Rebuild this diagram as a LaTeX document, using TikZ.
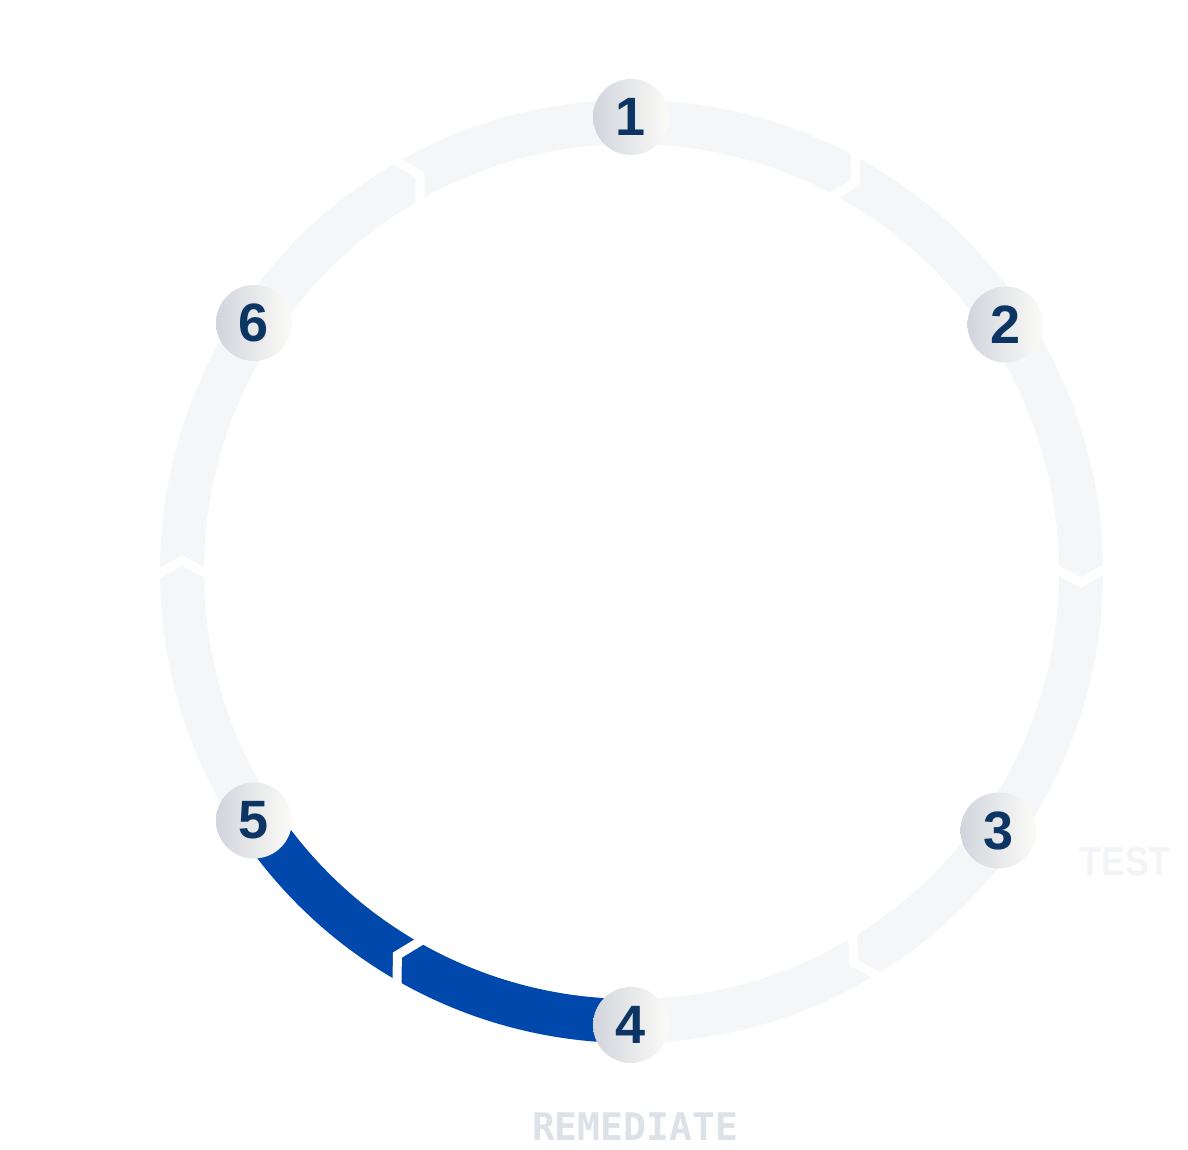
\documentclass[tikz,border=0pt]{standalone}
\usepackage{fontspec}
\setmainfont{Liberation Sans}
\newfontfamily\testfam{Liberation Sans}[FakeStretch=0.88]
\newfontfamily\monofam{DejaVu Sans Mono}
\usetikzlibrary{calc}
\definecolor{ringgray}{HTML}{F5F6F8}
\definecolor{ringblue}{HTML}{0048AC}
\definecolor{digitnavy}{HTML}{0C3563}
\definecolor{nodeleft}{HTML}{D1D5DC}
\definecolor{noderight}{HTML}{FCFBF7}
\definecolor{testgray}{HTML}{F3F4F6}
\definecolor{remgray}{HTML}{DDE1E8}
\tikzset{
  stepnode/.style={circle, minimum size=76pt, inner sep=0pt,
    left color=nodeleft, right color=noderight,
    text=digitnavy, font=\bfseries\fontsize{54}{54}\selectfont},
  ringband/.style={line width=44pt},
  gapline/.style={white, line width=9pt, line join=miter, line cap=butt},
  labeltext/.style={inner sep=0pt}
}
\begin{document}
\begin{tikzpicture}[x=1pt,y=1pt]
\fill[white] (0,0) rectangle (1188,1150);
\useasboundingbox (0,0) rectangle (1188,1150);
\coordinate (C) at (631.5,578.5);
% ring
\draw[ringband, ringgray] (C) circle (449.5);
\draw[ringband, ringblue] ($(C)+(-90:449.5)$) arc (-90:-146.6:449.5);
% chevron gaps
\foreach \t in {0,61.5,119.5,180,240,301}{
  \draw[gapline] ($(C)+(\t+0.7:420)$) -- ($(C)+(\t-1.4:449.5)$) -- ($(C)+(\t+0.7:479)$);
}
% step nodes
\node[stepnode] (n1) at (631,1033) {1};
\node[stepnode] (n2) at (1005.5,825.5) {2};
\node[stepnode] (n3) at (998.5,319.5) {3};
\node[stepnode] (n4) at (631,125) {4};
\node[stepnode] (n5) at (254,329.5) {5};
\node[stepnode] (n6) at (254,827) {6};
% labels
\node[labeltext, text=testgray, font=\testfam\bfseries\fontsize{40.5}{40.5}\selectfont] (test) at (1125,288.5) {TEST};
\node[labeltext, text=remgray, font=\monofam\bfseries\fontsize{38}{38}\selectfont] (rem) at (635,23.5) {REMEDIATE};
\end{tikzpicture}
\end{document}
